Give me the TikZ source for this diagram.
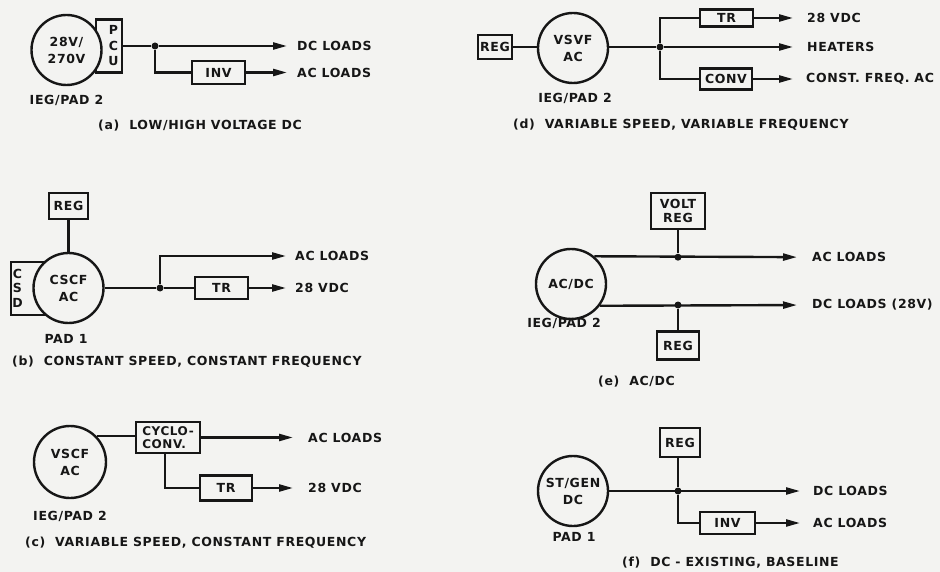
\documentclass[tikz,border=0pt]{standalone}
\usepackage{fontspec}
\usetikzlibrary{arrows.meta}
\newfontfamily\lblfont{DejaVu Sans Bold}[LetterSpace=5]
\newcommand\lblf{\lblfont\fontsize{12.5}{16}\selectfont}
\definecolor{bg}{RGB}{243,243,241}
\definecolor{ink}{RGB}{22,22,22}
\tikzset{
  ln/.style={draw=ink, line width=2.4pt},
  arr/.style={draw=ink, line width=2.4pt, -{Triangle[length=14pt,width=7pt]}},
  gen/.style={circle, draw=ink, line width=2.4pt, fill=bg, minimum size=70pt, inner sep=0pt, align=center, font=\lblf, text=ink},
  blk/.style={draw=ink, line width=2.2pt, fill=bg, inner sep=0pt, align=center, font=\lblf, text=ink},
  txt/.style={inner sep=0pt, font=\lblf, text=ink, align=center},
  lbl/.style={anchor=west, inner sep=0pt, font=\lblf, text=ink},
  jdot/.style={circle, fill=ink, inner sep=0pt, minimum size=7pt}
}
\begin{document}
\begin{tikzpicture}[x=1pt, y=-1pt]
\fill[bg] (0,0) rectangle (940,572);
\useasboundingbox (0,0) rectangle (940,572);

% ---------- (a) ----------
\node[blk, minimum width=26pt, minimum height=53pt] (pcu) at (109,46) {};
\node[gen] (ga) at (66.5,50) {28V/\\[1pt]270V};
\node[txt, font=\lblfont\fontsize{12.5}{15.5}\selectfont] (pcut) at (113.5,46) {P\\C\\U};
\node[jdot] (ja) at (155,46) {};
\node[blk, minimum width=53pt, minimum height=23pt] (inva) at (218.5,72.5) {INV};
\node[lbl] (la1) at (297,46) {DC LOADS};
\node[lbl] (la2) at (297,72.5) {AC LOADS};
\draw[ln] (pcu.east |- ja) -- (ja);
\draw[arr, shorten >=10pt] (ja) -- (la1.west);
\draw[ln] (ja) |- (inva.west);
\draw[arr, shorten >=10pt] (inva.east) -- (la2.west);
\node[txt] (pada) at (66.5,100) {IEG/PAD 2};
\node[lbl] (capa) at (98,126) {(a)\ \ LOW/HIGH VOLTAGE DC};

% ---------- (d) ----------
\node[blk, minimum width=34pt, minimum height=24pt] (regd) at (495,47) {REG};
\node[gen] (gd) at (573,48) {VSVF\\[1pt]AC};
\node[jdot] (jd) at (660,47) {};
\node[blk, minimum width=53pt, minimum height=17pt] (trd) at (726.5,18) {TR};
\node[blk, minimum width=52pt, minimum height=21pt] (convd) at (726,79) {CONV};
\node[lbl] (ld1) at (807,18) {28 VDC};
\node[lbl] (ld2) at (807,47) {HEATERS};
\node[lbl] (ld3) at (806,79) {CONST. FREQ. AC};
\draw[ln] (regd.east) -- (regd.east -| gd.west);
\draw[ln] (gd.east |- jd) -- (jd);
\draw[ln] (jd) |- (trd.west);
\draw[ln] (jd) |- (convd.west);
\draw[arr, shorten >=14pt] (trd.east) -- (ld1.west);
\draw[arr, shorten >=14pt] (jd) -- (ld2.west);
\draw[arr, shorten >=13pt] (convd.east) -- (ld3.west);
\node[txt] (padd) at (575,98) {IEG/PAD 2};
\node[lbl] (capd) at (513,125) {(d)\ \ VARIABLE SPEED, VARIABLE FREQUENCY};

% ---------- (b) ----------
\node[blk, minimum width=39pt, minimum height=26pt] (regb) at (68.5,206) {REG};
\node[blk, minimum width=49pt, minimum height=53pt] (csd) at (35.5,288.5) {};
\node[gen] (gb) at (68.5,288) {CSCF\\[1pt]AC};
\node[txt, font=\lblfont\fontsize{12.5}{14.5}\selectfont] (csdt) at (17.5,288) {C\\S\\D};
\node[jdot] (jb) at (160,288) {};
\node[blk, minimum width=53pt, minimum height=22pt] (trb) at (221.5,288) {TR};
\node[lbl] (lb1) at (295,256) {AC LOADS};
\node[lbl] (lb2) at (295,288) {28 VDC};
\draw[ln] (regb) -- (gb);
\draw[ln] (gb.east) -- (jb) -- (trb.west);
\draw[arr, shorten >=9pt] (jb) |- (lb1.west);
\draw[arr, shorten >=9pt] (trb.east) -- (lb2.west);
\node[txt] (padb) at (66,339) {PAD 1};
\node[lbl] (capb) at (12,362) {(b)\ \ CONSTANT SPEED, CONSTANT FREQUENCY};

% ---------- (e) ----------
\node[blk, minimum width=54pt, minimum height=36pt, font=\lblfont\fontsize{12.5}{14}\selectfont] (vreg) at (678,211) {VOLT\\REG};
\node[gen] (ge) at (571,284) {AC/DC};
\node[jdot] (je1) at (678,257.2) {};
\node[jdot] (je2) at (678,305) {};
\node[blk, minimum width=42pt, minimum height=28pt] (rege) at (678,345.5) {REG};
\node[lbl] (le1) at (812,257.2) {AC LOADS};
\node[lbl] (le2) at (812,305) {DC LOADS (28V)};
\draw[ln] (vreg) -- (je1);
\draw[ln] (je2) -- (rege);
\draw[arr, shorten >=15pt] (ge.50) -- (le1.west);
\draw[arr, shorten >=15pt] (ge.-37) -- (le2.west);
\node[txt] (pade) at (564,323) {IEG/PAD 2};
\node[lbl] (cape) at (598,382) {(e)\ \ AC/DC};

% ---------- (c) ----------
\node[gen, minimum size=72pt] (gc) at (70,462) {VSCF\\[1pt]AC};
\node[blk, minimum width=64pt, minimum height=31pt, align=left, font=\lblfont\fontsize{12}{13}\selectfont] (cyc) at (168,437.5) {CYCLO-\\CONV.};
\node[blk, minimum width=52pt, minimum height=25pt] (trc) at (226,488) {TR};
\node[lbl] (lc1) at (308,437.5) {AC LOADS};
\node[lbl] (lc2) at (308,488) {28 VDC};
\draw[ln] (gc.44) -- (gc.44 -| cyc.west);
\draw[arr, shorten >=15pt] (cyc.east) -- (lc1.west);
\draw[ln] ([xshift=-3pt]cyc.south) |- (trc.west);
\draw[arr, shorten >=15pt] (trc.east) -- (lc2.west);
\node[txt] (padc) at (70,516) {IEG/PAD 2};
\node[lbl] (capc) at (25,543) {(c)\ \ VARIABLE SPEED, CONSTANT FREQUENCY};

% ---------- (f) ----------
\node[blk, minimum width=40pt, minimum height=29pt] (regf) at (680,442.5) {REG};
\node[gen] (gf) at (573,491) {ST/GEN\\[1pt]DC};
\node[jdot] (jf) at (678,491) {};
\node[blk, minimum width=55pt, minimum height=22pt] (invf) at (727.5,523) {INV};
\node[lbl] (lf1) at (813,491) {DC LOADS};
\node[lbl] (lf2) at (813,523) {AC LOADS};
\draw[ln] (regf.south -| jf) -- (jf);
\draw[arr, shorten >=13pt] (gf.east) -- (lf1.west);
\draw[ln] (jf) |- (invf.west);
\draw[arr, shorten >=13pt] (invf.east) -- (lf2.west);
\node[txt] (padf) at (574,537) {PAD 1};
\node[lbl] (capf) at (622,563) {(f)\ \ DC - EXISTING, BASELINE};
\end{tikzpicture}
\end{document}
